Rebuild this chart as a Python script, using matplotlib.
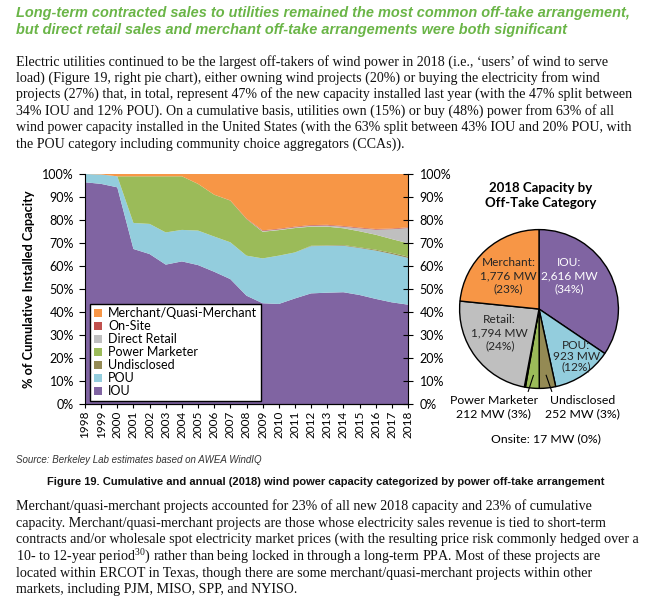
import numpy as np
import matplotlib.pyplot as plt
from matplotlib.lines import Line2D

W, H = 647, 607

# cumulative share (%) by off-take category, 1998-2018
years = np.arange(1998, 2019)
iou = [96.4, 95.7, 94.2, 67.4, 65.2, 60.6, 62.0, 60.4, 57.5, 54.3, 47.1,
       43.8, 43.5, 45.9, 48.1, 48.4, 48.6, 47.4, 45.7, 44.2, 43.2]
pou = [3.6, 4.1, 4.8, 11.3, 13.1, 14.0, 13.7, 15.0, 15.3, 16.0, 17.4,
       19.5, 21.0, 20.0, 20.5, 20.4, 20.2, 20.4, 21.0, 21.0, 20.3]
undisclosed = [0, 0, 0, 0, 0, 0, 0, 0, 0, 0, 0,
               0, 0, 0, 0.2, 0.2, 0.3, 0.3, 0.4, 0.5, 0.6]
power_marketer = [0, 0, 0, 20.3, 20.7, 24.4, 23.3, 20.3, 18.2, 18.1, 15.9,
                  11.6, 11.1, 10.6, 8.3, 8.1, 7.3, 7.0, 6.5, 6.0, 5.8]
direct_retail = [0, 0, 0, 0, 0, 0, 0, 0, 0, 0, 0,
                 0.3, 0.3, 0.3, 0.4, 0.5, 0.7, 1.3, 2.2, 4.3, 6.6]
on_site = [0, 0, 0, 0, 0, 0, 0, 0, 0, 0.1, 0.2,
           0.3, 0.3, 0.3, 0.3, 0.3, 0.3, 0.3, 0.3, 0.3, 0.3]
merchant = [0, 0.2, 1.0, 1.0, 1.0, 1.0, 1.0, 4.3, 9.0, 11.5, 19.4,
            24.5, 23.8, 22.9, 22.2, 22.1, 22.6, 23.3, 23.9, 23.7, 23.2]

series_names = ['IOU', 'POU', 'Undisclosed', 'Power Marketer', 'Direct Retail',
                'On-Site', 'Merchant/Quasi-Merchant']
series_colors = ['#8064A2', '#93CDDD', '#948A54', '#9BBB59', '#BFBFBF',
                 '#C0504D', '#F79646']

# 2018 annual capacity (MW)
pie_names = ['IOU', 'POU', 'Undisclosed', 'Power Marketer', 'Onsite', 'Retail', 'Merchant']
pie_mw = [2616, 923, 252, 212, 17, 1794, 1776]
pie_colors = ['#8064A2', '#93CDDD', '#948A54', '#9BBB59', '#C0504D', '#BFBFBF', '#F79646']

title_lines = [
    "Long-term contracted sales to utilities remained the most common off-take arrangement,",
    "but direct retail sales and merchant off-take arrangements were both significant",
]
para1 = [
    "Electric utilities continued to be the largest off-takers of wind power in 2018 (i.e., \u2018users\u2019 of wind to serve",
    "load) (Figure 19, right pie chart), either owning wind projects (20%) or buying the electricity from wind",
    "projects (27%) that, in total, represent 47% of the new capacity installed last year (with the 47% split between",
    "34% IOU and 12% POU). On a cumulative basis, utilities own (15%) or buy (48%) power from 63% of all",
    "wind power capacity installed in the United States (with the 63% split between 43% IOU and 20% POU, with",
    "the POU category including community choice aggregators (CCAs)).",
]
para2 = [
    "Merchant/quasi-merchant projects accounted for 23% of all new 2018 capacity and 23% of cumulative",
    "capacity. Merchant/quasi-merchant projects are those whose electricity sales revenue is tied to short-term",
    "contracts and/or wholesale spot electricity market prices (with the resulting price risk commonly hedged over a",
    "10- to 12-year period$^{30}$) rather than being locked in through a long-term PPA. Most of these projects are",
    "located within ERCOT in Texas, though there are some merchant/quasi-merchant projects within other",
    "markets, including PJM, MISO, SPP, and NYISO.",
]

plt.rcParams['mathtext.fontset'] = 'custom'
plt.rcParams['mathtext.rm'] = 'Liberation Serif'
CHART_FONT = ['Lato', 'DejaVu Sans']
SERIF = ['Liberation Serif', 'DejaVu Serif']


def fx(x):
    return x / W


def fy(y):
    return 1 - y / H


fig = plt.figure(figsize=(W / 100, H / 100), dpi=100)
fig.patch.set_facecolor('white')

# page text
for line, y in zip(title_lines, [13, 30]):
    fig.text(fx(16), fy(y), line, family=['Liberation Sans', 'DejaVu Sans'],
             weight='bold', style='italic', size=10.45, color='#6AB547', va='center')
for line, y in zip(para1, [62, 78, 94, 111, 127, 144]):
    fig.text(fx(16), fy(y), line, family=SERIF, size=10.05, color='#111111', va='center')
fig.text(fx(16), fy(460), "Source: Berkeley Lab estimates based on AWEA WindIQ",
         family=['Liberation Sans', 'DejaVu Sans'], style='italic', size=7.0,
         color='#333333', va='center')
fig.text(fx(326), fy(482),
         "Figure 19. Cumulative and annual (2018) wind power capacity categorized by power off-take arrangement",
         family=['Liberation Sans', 'DejaVu Sans'], weight='bold',
         size=8.0, color='#111111', ha='center', va='center')
for line, y in zip(para2, [506, 523, 539, 556, 573, 590]):
    fig.text(fx(16), fy(y), line, family=SERIF, size=10.1, color='#111111', va='center')

# stacked area chart
ax = fig.add_axes([fx(85), fy(404), fx(408) - fx(85), fy(174) - fy(404)])
stacks = [iou, pou, undisclosed, power_marketer, direct_retail, on_site, merchant]
ax.stackplot(years, stacks, colors=series_colors, labels=series_names, linewidth=0)
ax.set_xlim(1998, 2018)
ax.set_ylim(0, 100)
ax.set_xticks(years)
ax.set_xticklabels([str(y) for y in years], rotation=90, family=CHART_FONT, size=8.5)
ax.set_yticks(np.arange(0, 101, 10))
ax.set_yticklabels(['%d%%' % v for v in range(0, 101, 10)], family=CHART_FONT, size=9)
ax.tick_params(axis='x', direction='out', length=3, pad=1.5)
ax.tick_params(axis='y', direction='out', length=4, pad=4)
ax.spines['top'].set_visible(False)
ax.spines['right'].set_visible(False)

ax2 = ax.twinx()
ax2.set_ylim(0, 100)
ax2.set_yticks(np.arange(0, 101, 10))
ax2.set_yticklabels(['%d%%' % v for v in range(0, 101, 10)], family=CHART_FONT, size=9)
ax2.tick_params(axis='y', direction='inout', length=7, pad=5)
ax2.spines['top'].set_visible(False)
ax2.spines['left'].set_visible(False)

fig.text(fx(29), fy(289), "% of Cumulative Installed Capacity", family=CHART_FONT,
         weight='bold', size=9.2, rotation=90, ha='center', va='center')

handles, labels = ax.get_legend_handles_labels()
leg = ax.legend(handles[::-1], labels[::-1], loc='lower left',
                bbox_to_anchor=(fx(90), fy(401)), bbox_transform=fig.transFigure,
                borderaxespad=0, fancybox=False, framealpha=1, edgecolor='black',
                prop={'family': CHART_FONT, 'size': 9}, handlelength=0.65,
                handleheight=0.65, handletextpad=0.5, labelspacing=0.08,
                borderpad=0.3)
leg.get_frame().set_linewidth(1)

# pie of 2018 capacity
pax = fig.add_axes([fx(458), fy(390), fx(620) - fx(458), fy(228) - fy(390)])
wedges, _ = pax.pie(pie_mw, colors=pie_colors, startangle=90, counterclock=False,
                    wedgeprops={'edgecolor': 'black', 'linewidth': 1})
pax.set_xlim(-1.02, 1.02)
pax.set_ylim(-1.02, 1.02)


def pxy(x, y):
    # page pixel -> pie data coords (centre 539,309, radius 81 px)
    return (x - 539) / 81.0, -(y - 309) / 81.0


total = sum(pie_mw)
pct = [round(100 * v / total) for v in pie_mw]
inner = {
    'Merchant': (508, 275, '#262626'),
    'IOU': (570, 275, 'white'),
    'Retail': (499, 333, '#262626'),
    'POU': (577, 357, '#262626'),
}
for name, mw, p in zip(pie_names, pie_mw, pct):
    if name in inner:
        x, y, c = inner[name]
        tx, ty = pxy(x, y)
        ls = 0.95 if name == 'POU' else 1.2
        pax.text(tx, ty, "%s:\n%s MW\n(%d%%)" % (name, format(mw, ','), p), ha='center',
                 va='center', color=c, family=CHART_FONT, size=8.6, linespacing=ls)

outer = {'Power Marketer': (493, 409, 528, 393), 'Undisclosed': (583, 409, 552, 393)}
for name, mw, p, w in zip(pie_names, pie_mw, pct, wedges):
    if name in outer:
        x, y, lx, ly = outer[name]
        ang = np.deg2rad((w.theta1 + w.theta2) / 2)
        x0, y0 = 0.84 * np.cos(ang), 0.84 * np.sin(ang)
        x1, y1 = pxy(lx, ly)
        pax.add_line(Line2D([x0, x1], [y0, y1], color='black', lw=0.8, clip_on=False))
        tx, ty = pxy(x, y)
        pax.text(tx, ty, "%s\n%d MW (%d%%)" % (name, mw, p), ha='center', va='center',
                 family=CHART_FONT, size=8.8, linespacing=1.25, clip_on=False)

fig.text(fx(546), fy(439), "Onsite: %d MW (%d%%)" % (pie_mw[4], pct[4]), family=CHART_FONT,
         size=8.8, ha='center', va='center')
fig.text(fx(541), fy(195), "2018 Capacity by\nOff-Take Category", family=CHART_FONT,
         weight='bold', size=9.5, ha='center', va='center', linespacing=1.3)

fig.savefig('out.png', dpi=100)
